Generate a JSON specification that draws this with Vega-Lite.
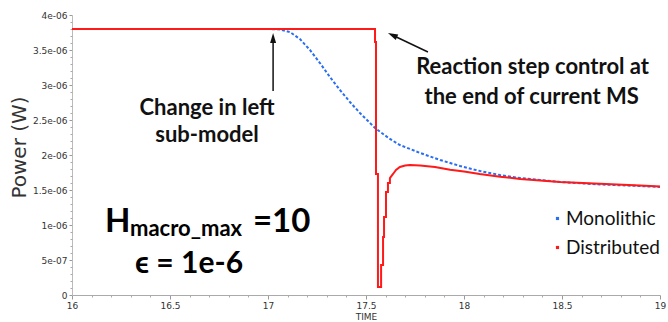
{
  "$schema": "https://vega.github.io/schema/vega-lite/v6.json",
  "width": 588,
  "height": 280,
  "autosize": {"type": "none"},
  "padding": {"left": 72, "top": 15, "right": 8, "bottom": 27},
  "background": "white",
  "config": {"view": {"stroke": null}},
  "resolve": {"axis": {"x": "independent", "y": "independent"}},
  "datasets": {
    "mono": [
      {"t": 16.0, "p": 3.8e-6},
      {"t": 17.0, "p": 3.8e-6},
      {"t": 17.061, "p": 3.793e-6},
      {"t": 17.112, "p": 3.757e-6},
      {"t": 17.163, "p": 3.657e-6},
      {"t": 17.214, "p": 3.5e-6},
      {"t": 17.265, "p": 3.314e-6},
      {"t": 17.316, "p": 3.114e-6},
      {"t": 17.367, "p": 2.929e-6},
      {"t": 17.418, "p": 2.757e-6},
      {"t": 17.469, "p": 2.6e-6},
      {"t": 17.546, "p": 2.386e-6},
      {"t": 17.622, "p": 2.229e-6},
      {"t": 17.673, "p": 2.143e-6},
      {"t": 17.776, "p": 2.029e-6},
      {"t": 17.878, "p": 1.929e-6},
      {"t": 17.98, "p": 1.843e-6},
      {"t": 18.082, "p": 1.771e-6},
      {"t": 18.184, "p": 1.714e-6},
      {"t": 18.286, "p": 1.671e-6},
      {"t": 18.388, "p": 1.643e-6},
      {"t": 18.49, "p": 1.614e-6},
      {"t": 18.694, "p": 1.579e-6},
      {"t": 18.898, "p": 1.557e-6},
      {"t": 19.0, "p": 1.543e-6}
    ],
    "dist": [
      {"t": 16.0, "p": 3.8e-6},
      {"t": 17.546, "p": 3.8e-6},
      {"t": 17.546, "p": 3.614e-6},
      {"t": 17.551, "p": 3.614e-6},
      {"t": 17.551, "p": 1.729e-6},
      {"t": 17.561, "p": 1.729e-6},
      {"t": 17.561, "p": 1.14e-7},
      {"t": 17.577, "p": 1.14e-7},
      {"t": 17.577, "p": 4.29e-7},
      {"t": 17.587, "p": 4.29e-7},
      {"t": 17.587, "p": 8.29e-7},
      {"t": 17.592, "p": 8.29e-7},
      {"t": 17.592, "p": 1.114e-6},
      {"t": 17.602, "p": 1.114e-6},
      {"t": 17.602, "p": 1.471e-6},
      {"t": 17.612, "p": 1.471e-6},
      {"t": 17.612, "p": 1.6e-6},
      {"t": 17.622, "p": 1.6e-6},
      {"t": 17.622, "p": 1.671e-6},
      {"t": 17.638, "p": 1.729e-6},
      {"t": 17.653, "p": 1.786e-6},
      {"t": 17.673, "p": 1.829e-6},
      {"t": 17.7, "p": 1.851e-6},
      {"t": 17.724, "p": 1.857e-6},
      {"t": 17.776, "p": 1.851e-6},
      {"t": 17.852, "p": 1.829e-6},
      {"t": 17.929, "p": 1.79e-6},
      {"t": 18.0, "p": 1.765e-6},
      {"t": 18.08, "p": 1.729e-6},
      {"t": 18.184, "p": 1.69e-6},
      {"t": 18.286, "p": 1.657e-6},
      {"t": 18.49, "p": 1.614e-6},
      {"t": 18.694, "p": 1.59e-6},
      {"t": 18.898, "p": 1.565e-6},
      {"t": 19.0, "p": 1.55e-6}
    ],
    "notes": [
      {"t": 16.689, "p": 2.671e-6, "text": "Change in left"},
      {"t": 16.689, "p": 2.286e-6, "text": "sub-model"},
      {"t": 18.35, "p": 3.257e-6, "text": "Reaction step control at"},
      {"t": 18.345, "p": 2.829e-6, "text": "the end of current MS"}
    ],
    "arrows": [
      {"t": 17.026, "p": 2.914e-6, "t2": 17.026, "p2": 3.6e-6},
      {"t": 17.816, "p": 3.471e-6, "t2": 17.636, "p2": 3.71e-6}
    ]
  },
  "layer": [
    {
      "data": {"name": "mono"},
      "transform": [{"calculate": "'Monolithic'", "as": "series"}],
      "mark": {"type": "line", "strokeWidth": 2, "strokeDash": [3, 2]},
      "encoding": {
        "x": {
          "field": "t", "type": "quantitative",
          "scale": {"domain": [16, 19], "nice": false, "zero": false},
          "axis": {
            "title": "TIME", "orient": "bottom",
            "values": [16, 16.5, 17, 17.5, 18, 18.5, 19],
            "format": "~g",
            "labelOverlap": false, "labelFlush": false,
            "labelFont": "DejaVu Sans", "labelFontSize": 9, "labelColor": "#333",
            "labelPadding": 2,
            "tickSize": 4,
            "tickColor": "#999", "domainColor": "#aaa",
            "grid": false,
            "titleFont": "DejaVu Sans", "titleFontSize": 9, "titleFontWeight": "normal", "titleColor": "#333",
            "titleY": 21, "titleBaseline": "middle"
          }
        },
        "y": {
          "field": "p", "type": "quantitative",
          "scale": {"domain": [0, 4e-6], "nice": false},
          "axis": {
            "title": "Power (W)", "orient": "left",
            "values": [0, 5e-7, 1e-6, 1.5e-6, 2e-6, 2.5e-6, 3e-6, 3.5e-6, 4e-6],
            "labelExpr": "datum.value == 0 ? '0' : replace(format(datum.value, '~e'), 'e-', 'e-0')",
            "labelOverlap": false, "labelFlush": false,
            "labelFont": "DejaVu Sans", "labelFontSize": 9, "labelColor": "#333",
            "labelPadding": 2,
            "tickSize": 3,
            "tickColor": "#999", "domainColor": "#bbb",
            "grid": false,
            "titleFont": "DejaVu Sans", "titleFontSize": 20, "titleFontWeight": "normal", "titleColor": "#333",
            "titleX": -53, "titleY": 132, "titleBaseline": "middle", "titleAlign": "center", "titleAngle": -90
          }
        },
        "color": {
          "field": "series", "type": "nominal",
          "scale": {"domain": ["Monolithic", "Distributed"], "range": ["#2a6ef2", "#ff1a1a"]},
          "legend": {
            "orient": "none", "legendX": 476, "legendY": 194, "title": null,
            "symbolType": "square", "symbolSize": 10, "symbolStrokeWidth": 0, "symbolDash": [],
            "labelFont": "Lato", "labelFontSize": 19, "labelColor": "#111",
            "labelOffset": -1, "rowPadding": 9, "padding": 0,
            "encode": {"symbols": {"update": {"fill": {"scale": "color", "field": "value"}, "fillOpacity": {"value": 1}}}}
          }
        },
        "order": {"value": null}
      }
    },
    {
      "data": {"name": "dist"},
      "transform": [{"calculate": "'Distributed'", "as": "series"}],
      "mark": {"type": "line", "strokeWidth": 2},
      "encoding": {
        "x": {
          "field": "t", "type": "quantitative",
          "axis": {
            "title": null, "orient": "bottom", "labels": false, "domain": false, "grid": false,
            "values": [16.1, 16.2, 16.3, 16.4, 16.6, 16.7, 16.8, 16.9, 17.1, 17.2, 17.3, 17.4, 17.6, 17.7, 17.8, 17.9, 18.1, 18.2, 18.3, 18.4, 18.6, 18.7, 18.8, 18.9],
            "tickSize": 2, "tickColor": "#aaa"
          }
        },
        "y": {
          "field": "p", "type": "quantitative",
          "axis": {
            "title": null, "orient": "left", "labels": false, "domain": false, "grid": false,
            "values": [1e-7, 2e-7, 3e-7, 4e-7, 6e-7, 7e-7, 8e-7, 9e-7, 1.1e-6, 1.2e-6, 1.3e-6, 1.4e-6, 1.6e-6, 1.7e-6, 1.8e-6, 1.9e-6, 2.1e-6, 2.2e-6, 2.3e-6, 2.4e-6, 2.6e-6, 2.7e-6, 2.8e-6, 2.9e-6, 3.1e-6, 3.2e-6, 3.3e-6, 3.4e-6, 3.6e-6, 3.7e-6, 3.8e-6, 3.9e-6],
            "tickSize": 2, "tickColor": "#aaa"
          }
        },
        "color": {"field": "series", "type": "nominal"},
        "order": {"value": null}
      }
    },
    {
      "data": {"name": "arrows"},
      "mark": {"type": "rule", "color": "#111", "strokeWidth": 1.5},
      "encoding": {
        "x": {"field": "t", "type": "quantitative", "axis": null},
        "y": {"field": "p", "type": "quantitative", "axis": null},
        "x2": {"field": "t2"},
        "y2": {"field": "p2"}
      }
    },
    {
      "data": {"values": [{"t": 17.026, "p": 3.671e-6}]},
      "mark": {"type": "point", "shape": "M0,-1L0.6,1L-0.6,1Z", "filled": true, "color": "#111", "size": 100, "opacity": 1},
      "encoding": {
        "x": {"field": "t", "type": "quantitative", "axis": null},
        "y": {"field": "p", "type": "quantitative", "axis": null}
      }
    },
    {
      "data": {"values": [{"t": 17.635, "p": 3.713e-6}]},
      "mark": {"type": "point", "shape": "M0,-1L0.6,1L-0.6,1Z", "filled": true, "color": "#111", "size": 100, "opacity": 1, "angle": 295},
      "encoding": {
        "x": {"field": "t", "type": "quantitative", "axis": null},
        "y": {"field": "p", "type": "quantitative", "axis": null}
      }
    },
    {
      "data": {"name": "notes"},
      "mark": {"type": "text", "font": "Lato", "fontWeight": "bold", "fontSize": 22, "color": "#111", "align": "center", "baseline": "middle"},
      "encoding": {
        "x": {"field": "t", "type": "quantitative", "axis": null},
        "y": {"field": "p", "type": "quantitative", "axis": null},
        "text": {"field": "text"}
      }
    },
    {
      "data": {"values": [{"t": 16.168, "p": 9.0e-7, "text": "H"}, {"t": 16.923, "p": 9.0e-7, "text": "=10"}]},
      "mark": {"type": "text", "font": "Lato", "fontWeight": "bold", "fontSize": 33, "color": "#000", "align": "left", "baseline": "alphabetic"},
      "encoding": {
        "x": {"field": "t", "type": "quantitative", "axis": null},
        "y": {"field": "p", "type": "quantitative", "axis": null},
        "text": {"field": "text"}
      }
    },
    {
      "data": {"values": [{"t": 16.296, "p": 8.43e-7, "text": "macro_max"}]},
      "mark": {"type": "text", "font": "Lato", "fontWeight": "bold", "fontSize": 22, "color": "#000", "align": "left", "baseline": "alphabetic"},
      "encoding": {
        "x": {"field": "t", "type": "quantitative", "axis": null},
        "y": {"field": "p", "type": "quantitative", "axis": null},
        "text": {"field": "text"}
      }
    },
    {
      "data": {"values": [{"t": 16.597, "p": 3.14e-7, "text": "ϵ  = 1e-6"}]},
      "mark": {"type": "text", "font": "Lato", "fontWeight": "bold", "fontSize": 30, "color": "#000", "align": "center", "baseline": "alphabetic"},
      "encoding": {
        "x": {"field": "t", "type": "quantitative", "axis": null},
        "y": {"field": "p", "type": "quantitative", "axis": null},
        "text": {"field": "text"}
      }
    }
  ]
}
